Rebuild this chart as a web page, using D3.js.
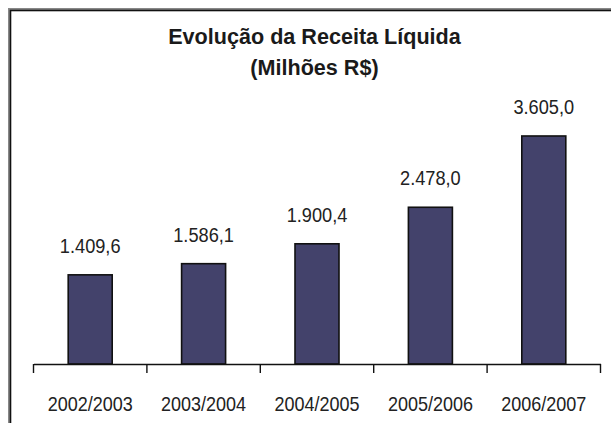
<!DOCTYPE html>
<html><head><meta charset="utf-8">
<script src="https://cdn.jsdelivr.net/npm/d3@7"></script>
<style>body{margin:0;background:#fff}svg{display:block}</style>
</head><body>
<script>
const titleLines = ["Evolução da Receita Líquida", "(Milhões R$)"];
const categories = ["2002/2003", "2003/2004", "2004/2005", "2005/2006", "2006/2007"];
const values = [1409.6, 1586.1, 1900.4, 2478.0, 3605.0];
const valueLabels = ["1.409,6", "1.586,1", "1.900,4", "2.478,0", "3.605,0"];

const W = 611, H = 423;
const svg = d3.select("body").append("svg").attr("width", W).attr("height", H);
svg.append("rect").attr("width", W).attr("height", H).attr("fill", "#fff");

// frame
svg.append("rect").attr("x", 9.5).attr("y", 9.5).attr("width", 640).attr("height", 450)
  .attr("fill", "none").attr("stroke", "#888").attr("stroke-width", 3);
svg.append("rect").attr("x", 10.5).attr("y", 10.5).attr("width", 640).attr("height", 450)
  .attr("fill", "none").attr("stroke", "#111").attr("stroke-width", 1.6);

const x = d3.scaleBand().domain(categories).range([33.5, 600.5]).paddingInner(0.612).paddingOuter(0.306);
const y = d3.scaleLinear().domain([0, 4000]).range([364, 111]);

// title
svg.append("g").selectAll("text").data(titleLines).join("text")
  .attr("transform", (d, i) => `translate(314.5,${44 + i * 31}) scale(1,1.05)`)
  .attr("text-anchor", "middle")
  .attr("font-family", "Liberation Sans, Arial, sans-serif")
  .attr("font-weight", "bold").attr("font-size", 21.6).attr("fill", "#1a1a1a")
  .text(d => d);

// bars
svg.append("g").selectAll("rect").data(values).join("rect")
  .attr("x", (d, i) => x(categories[i]))
  .attr("y", d => y(d))
  .attr("width", x.bandwidth())
  .attr("height", d => y(0) - y(d))
  .attr("fill", "#43426b").attr("stroke", "#111").attr("stroke-width", 1.6);

// value labels
svg.append("g").selectAll("text").data(values).join("text")
  .attr("transform", (d, i) => `translate(${x(categories[i]) + x.bandwidth() / 2},${y(d) - 22}) scale(0.91,1.03)`)
  .attr("text-anchor", "middle")
  .attr("font-family", "Liberation Sans, Arial, sans-serif")
  .attr("font-size", 20).attr("fill", "#222")
  .text((d, i) => valueLabels[i]);

// axis
const axis = svg.append("g").attr("transform", `translate(0,${y(0)})`)
  .call(d3.axisBottom(x).tickSize(0).tickSizeOuter(0).tickFormat(""));
axis.select(".domain").attr("stroke", "#111").attr("stroke-width", 1.4);
const bounds = d3.range(categories.length + 1).map(i => x.range()[0] + i * x.step());
axis.append("g").selectAll("line").data(bounds).join("line")
  .attr("x1", d => d).attr("x2", d => d).attr("y1", 0).attr("y2", 9)
  .attr("stroke", "#111").attr("stroke-width", 1.4);

svg.append("g").selectAll("text").data(categories).join("text")
  .attr("transform", d => `translate(${x(d) + x.bandwidth() / 2},411) scale(0.9,1.03)`)
  .attr("text-anchor", "middle")
  .attr("font-family", "Liberation Sans, Arial, sans-serif")
  .attr("font-size", 20).attr("fill", "#222")
  .text(d => d);
</script>
</body></html>
